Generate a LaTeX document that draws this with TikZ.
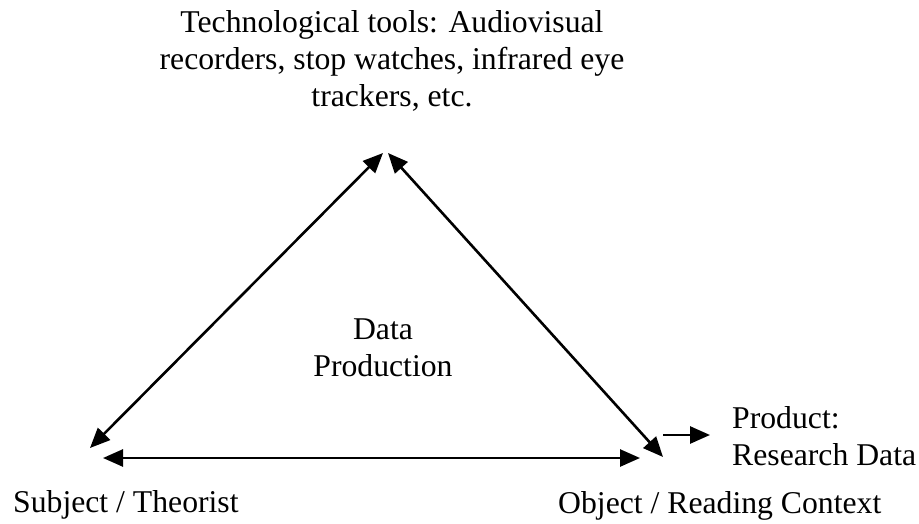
\documentclass[tikz,border=0pt]{standalone}
\usepackage{fontspec}
\setmainfont{Liberation Serif}
\usetikzlibrary{arrows.meta}
\begin{document}
\begin{tikzpicture}[x=1pt,y=1pt,
  lbl/.style={inner sep=0pt,font=\fontsize{31.7}{36.8}\selectfont},
  conn/.style={line width=2.6pt,{Triangle[length=20pt,width=17pt]}-{Triangle[length=20pt,width=17pt]}},
  oneway/.style={line width=2.6pt,-{Triangle[length=20pt,width=17pt]}}]
\useasboundingbox (0,0) rectangle (919,-524);
% labels
\node[lbl,align=center,anchor=base] (tools) at (392,-106.6)
  {Technological tools: Audiovisual\\recorders, stop watches, infrared eye\\trackers, etc.};
\node[lbl,align=center,anchor=base] (dp) at (383,-376) {Data\\Production};
\node[lbl,anchor=base west] (subj) at (13,-512) {Subject / Theorist};
\node[lbl,anchor=base west] (obj) at (558,-513) {Object / Reading Context};
\node[lbl,align=left,anchor=base west] (prod) at (732,-465) {Product:\\Research Data};
% connector ends
\coordinate (topL) at (383,-153);
\coordinate (topR) at (388,-153);
\coordinate (left) at (90,-448);
\coordinate (right) at (663,-457);
\coordinate (botL) at (103,-458);
\coordinate (botR) at (640,-458);
\coordinate (pA) at (663,-435);
\coordinate (pB) at (710,-435);
% connectors
\draw[conn] (left) -- (topL);
\draw[conn] (topR) -- (right);
\draw[conn] (botL) -- (botR);
\draw[oneway] (pA) -- (pB);
\end{tikzpicture}
\end{document}
